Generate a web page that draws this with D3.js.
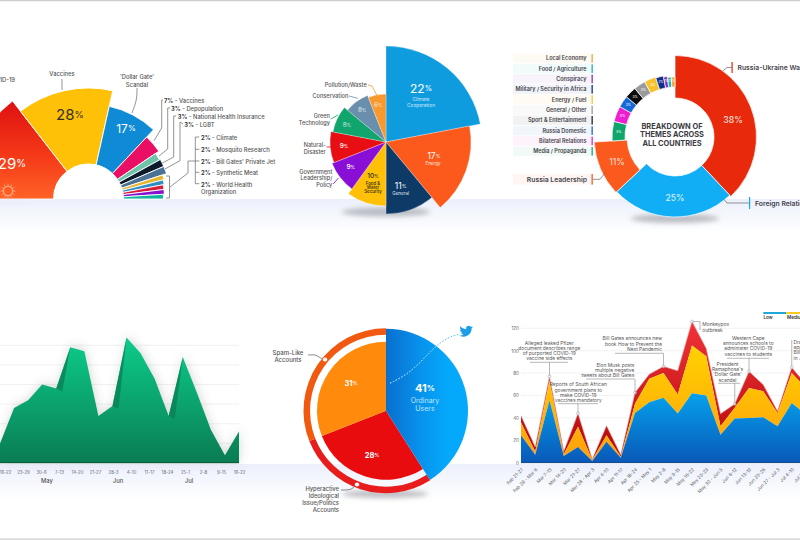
<!DOCTYPE html>
<html>
<head>
<meta charset="utf-8">
<script src="https://cdn.jsdelivr.net/npm/d3@7"></script>
<style>
html,body{margin:0;padding:0;background:#fff}
svg{display:block}
text{font-family:Inter,"Noto Sans",sans-serif}
</style>
</head>
<body>
<svg id="board" width="800" height="540" viewBox="0 0 800 540"></svg>
<script>
// Narrative share, half-donut
const narrativeNames = ["COVID-19","Vaccines","'Dollar Gate' Scandal","Vaccines","Depopulation","National Health Insurance","LGBT","Climate","Mosquito Research","Bill Gates' Private Jet","Synthetic Meat","World Health Organization"];
const narrativeValues = [29,28,17,7,3,3,3,2,2,2,2,2];
const narrativeRadii = [124,111,95,85,81,82,82,78,77,76,76,75];
const narrativeColors = ["url(#gRed1)","#ffc107","#0f8bd6","#ea0f64","#6fc3a8","#0c1b2c","#4a7196","#e6b62f","#2f8ec4","#d81c3a","#8a10cf","#10b59c"];

// Environmental themes, variable-radius pie
const envNames = ["Climate Cooperation","Energy","General","Food & Water Security","Government Leadership/Policy","Natural Disaster","Green Technology","Conservation","Pollution/Waste"];
const envValues = [22,17,11,10,9,9,8,8,6];
const envRadii = [96,85,72,64,58,56,54,50,48];
const envColors = ["#0f9cdf","#fb5a1c","#0e3a68","#ffc107","#8a0fd6","#e70f14","#11a56e","#6a8fad","#f8992f"];

// Themes across all countries, donut
const themeNames = ["Russia-Ukraine War","Foreign Relations","Russia Leadership","Media / Propaganda","Bilateral Relations","Russia Domestic","Sport & Entertainment","General / Other","Energy / Fuel","Military / Security in Africa","Conspiracy","Food / Agriculture","Local Economy"];
const themeValues = [38,25,11,5,4,3,3,3,3,2,1,1,1];
const themeColors = ["#e8290b","#12aef5","#fb5a1e","#11a56e","#ee1fd0","#1668d8","#0c0c0c","#9a9a9a","#f7c22c","#0d2e8c","#8a2fc0","#18b4b0","#f2a33c"];
const themeInner = [39,39,48,50,50,50,50,50,50,50,50,50,50];
const themeOuter = [81.5,80,81,63,63,63,63,63,63,62,61,60,60];
const legendNames = ["Local Economy","Food / Agriculture","Conspiracy","Military / Security in Africa","Energy / Fuel","General / Other","Sport & Entertainment","Russia Domestic","Bilateral Relations","Media / Propaganda"];
const legendColors = ["#f2a33c","#18b4b0","#8a2fc0","#0d2e8c","#f7c22c","#9a9a9a","#222222","#1668d8","#ee1fd0","#11a56e"];

// Weekly volume, green area
const weeklyVolume = [10,28,32,40,38,59,57,24,29,64,56,43,24,54,36,17,4,16];
const weeklyTicks = ["16-22","23-29","30-6","7-13","14-20","21-27","28-3","4-10","11-17","18-24","25-1","2-8","9-15","16-22"];
const weeklyMonths = ["May","Jun","Jul"];
const weeklyGrid = [10,20,30,40,50,60];
const facetPeaks = [5,9,13];

// Account types, pie with outer ring
const accountNames = ["Ordinary Users","Hyperactive Ideological Issue/Politics Accounts","Spam-Like Accounts"];
const accountValues = [41,28,31];

// Weekly risk levels, stacked area
const riskWeeks = ["Feb 21-27","Feb 28 - Mar 6","Mar 7-13","Mar 14-20","Mar 21-27","Mar 28 - Apr 3","Apr 4-10","Apr 11-17","Apr 18-24","Apr 25 - May 1","May 2-8","May 9-15","May 16-22","May 23-29","May 30 - Jun 5","Jun 6-12","Jun 13-19","Jun 20-26","Jun 27 - Jul 3","Jul 4-10","Jul 11-17"];
const riskLow = [24.6,7,55.7,6,14,1.5,18.7,4.4,44.4,54,58,44,62,60,25,39.4,40,40.6,32.6,53.3,43];
const riskMedium = [11.4,3,17.8,1.5,18,0.9,5.9,0.9,8.3,21,22,17,42.6,35,7.6,9.6,26.7,23.1,11.8,26.7,23.7];
const riskHigh = [6,4,3.5,2.5,12,0.6,8.4,1.7,9.8,4,6,21,21.4,7,11,3.4,14.8,5.9,1.6,5,3.3];
const riskAxisTicks = [0,20,40,60,80,100,120];

const svg = d3.select("#board");
const defs = svg.append("defs");
const rad = d => d * Math.PI / 180;
const lineGen = d3.line();

function vGrad(id, x1, y1, x2, y2, stops) {
  const g = defs.append("linearGradient").attr("id", id).attr("gradientUnits", "userSpaceOnUse")
    .attr("x1", x1).attr("y1", y1).attr("x2", x2).attr("y2", y2);
  stops.forEach(s => g.append("stop").attr("offset", s[0]).attr("stop-color", s[1]).attr("stop-opacity", s[2] === undefined ? 1 : s[2]));
}
function blur(id, sd) {
  defs.append("filter").attr("id", id).attr("x", "-30%").attr("y", "-60%").attr("width", "160%").attr("height", "220%")
    .append("feGaussianBlur").attr("stdDeviation", sd);
}
function label(g, x, y, str, opt = {}) {
  return g.append("text").attr("x", x).attr("y", y).text(str)
    .attr("text-anchor", opt.anchor || "middle")
    .attr("dominant-baseline", "central")
    .attr("font-size", opt.size || 5.5)
    .attr("font-weight", opt.weight || 500)
    .attr("fill", opt.fill || "#444")
    .attr("fill-opacity", opt.opacity === undefined ? 1 : opt.opacity);
}
// value with a smaller percent sign
function pct(x, y, v, big, small, fill, weight = 500, opacity = 1) {
  const t = label(svg, x, y, "", { size: big, weight, fill, opacity });
  t.append("tspan").text(v);
  t.append("tspan").text("%").attr("font-size", small);
}
function leader(g, pts, color = "#666", w = 0.7, curve) {
  const gen = curve ? d3.line().curve(curve) : lineGen;
  return g.append("path").attr("d", gen(pts)).attr("fill", "none").attr("stroke", color).attr("stroke-width", w);
}
function shadow(cx, cy, rx, ry) {
  svg.append("ellipse").attr("cx", cx).attr("cy", cy).attr("rx", rx).attr("ry", ry)
    .attr("fill", "#70747c").attr("fill-opacity", .45).attr("filter", "url(#soft)");
}

blur("soft", 2.5);
blur("softWide", 5);
vGrad("gBand1", 0, 199, 0, 232, [[0, "#ecf0fb"], [1, "#ffffff"]]);
vGrad("gBand2", 0, 464, 0, 500, [[0, "#ecf0fb"], [1, "#ffffff"]]);
// gradient below is read in the half-donut's own coordinates, origin at its centre
vGrad("gRed1", 0, -95, 0, 0, [[0, "#e01212"], [.55, "#f53a18"], [1, "#ff6226"]]);
vGrad("gArea", 0, 340, 0, 463, [[0, "#0ccb88"], [.55, "#0ba06c"], [1, "#0a7c52"]]);
// read in the ring pie's own coordinates
vGrad("gBlue5", 0, 0, 62, 0, [[0, "#0a6fce"], [.55, "#0792ec"], [1, "#05a9fb"]]);
vGrad("gRiskLow", 0, 375, 0, 463, [[0, "#04b4fa"], [1, "#0a58b8"]]);
vGrad("gRiskMed", 0, 340, 0, 450, [[0, "#ffd400"], [1, "#ffa40a"]]);
vGrad("gRiskHigh", 0, 320, 0, 440, [[0, "#f3343a"], [1, "#b80e10"]]);

// page frame and pale floor bands
svg.append("rect").attr("width", 800).attr("height", 540).attr("fill", "#fff");
svg.append("rect").attr("y", 199).attr("width", 800).attr("height", 33).attr("fill", "url(#gBand1)");
svg.append("rect").attr("y", 464).attr("width", 800).attr("height", 36).attr("fill", "url(#gBand2)");
svg.append("rect").attr("width", 800).attr("height", 1.3).attr("fill", "#cfcfcf");
svg.append("rect").attr("y", 538.3).attr("width", 800).attr("height", 1.7).attr("fill", "#dcdcdc");

/* ---------- half donut ---------- */
{
  const g = svg.append("g").attr("transform", "translate(88.5,199)");
  const pie = d3.pie().sort(null).startAngle(rad(-90)).endAngle(rad(90))(narrativeValues);
  g.selectAll("path").data(pie).join("path")
    .attr("d", (d, i) => d3.arc().innerRadius(35).outerRadius(narrativeRadii[i])(d))
    .attr("fill", (d, i) => narrativeColors[i])
    .attr("stroke", "#fff").attr("stroke-width", .9);
  // motif inside the red wedge
  const virus = svg.append("g").attr("transform", "translate(8,191)").attr("stroke", "#ffb48c").attr("stroke-opacity", .85).attr("fill", "none");
  virus.append("circle").attr("r", 4.6).attr("stroke-width", 1.4);
  d3.range(12).forEach(k => {
    const a = k * Math.PI / 6;
    virus.append("line").attr("x1", 4.6 * Math.cos(a)).attr("y1", 4.6 * Math.sin(a))
      .attr("x2", 7.5 * Math.cos(a)).attr("y2", 7.5 * Math.sin(a)).attr("stroke-width", .9);
  });
  svg.append("rect").attr("y", 199).attr("width", 30).attr("height", 6).attr("fill", "#ecf0fb");

  pct(12, 163, narrativeValues[0], 15, 10, "#fff", 400);
  pct(70, 114, narrativeValues[1], 15, 9.5, "#33302a", 400);
  pct(126, 128, narrativeValues[2], 12, 8, "#fff", 400);

  const lab = { size: 5.8, weight: 500, fill: "#555" };
  label(svg, 15, 79, narrativeNames[0], { ...lab, anchor: "end" });
  label(svg, 62, 73, narrativeNames[1], lab);
  label(svg, 137, 76.5, "'Dollar Gate'", lab);
  label(svg, 137, 84, "Scandal", lab);
  leader(svg, [[62, 79], [62, 90]]);
  leader(svg, [[137, 88], [137, 100], [132, 113]], "#666", .7, d3.curveBasis);

  const rows = [
    { i: 3, x: 164, y: 100, path: [[163, 100], [161.7, 100], [161.7, 128], [154, 140.7]] },
    { i: 4, x: 171, y: 108, path: [[170, 108], [167.7, 108], [167.7, 149], [159, 156]] },
    { i: 5, x: 177.7, y: 116, path: [[176, 116], [173.7, 116], [173.7, 157], [162.3, 163]] },
    { i: 6, x: 184.3, y: 124, path: [[183, 124], [180, 122], [180, 160.7], [165, 169]] }
  ];
  rows.forEach(r => {
    const t = label(svg, r.x, r.y, "", { ...lab, anchor: "start" });
    t.append("tspan").text(narrativeValues[r.i] + "%").attr("font-weight", 700).attr("fill", "#3a3a3a");
    t.append("tspan").text(" - " + narrativeNames[r.i]);
    leader(svg, r.path);
  });
  const treeY = [137, 149.3, 161, 172.3, 183.7];
  treeY.forEach((y, k) => {
    const t = label(svg, 201, y, "", { ...lab, anchor: "start" });
    t.append("tspan").text(narrativeValues[7 + k] + "%").attr("font-weight", 700).attr("fill", "#3a3a3a");
    t.append("tspan").text(" - " + (k === 4 ? "World Health" : narrativeNames[7 + k]));
    leader(svg, [[195.3, y], [199.3, y]]);
  });
  label(svg, 201, 191, "Organization", { ...lab, anchor: "start" });
  leader(svg, [[195.3, 137], [195.3, 183.7]]);
  leader(svg, [[195.3, 161], [188, 161], [188, 173], [170, 187]]);
  leader(svg, [[166, 176], [169.5, 176], [169.5, 198], [166, 198]]);
}

/* ---------- variable radius pie ---------- */
{
  shadow(386, 212, 44, 4.5);
  const g = svg.append("g").attr("transform", "translate(386,142)");
  const pie = d3.pie().sort(null)(envValues);
  g.selectAll("path").data(pie).join("path")
    .attr("d", (d, i) => d3.arc().innerRadius(0).outerRadius(envRadii[i])(d))
    .attr("fill", (d, i) => envColors[i])
    .attr("stroke", "#fff").attr("stroke-width", .3);
  const w = "#fff";
  pct(421, 88, envValues[0], 12, 7.5, w, 400);
  label(svg, 421, 99, "Climate", { fill: w, weight: 400, size: 4.8, opacity: .8 });
  label(svg, 421, 105, "Cooperation", { fill: w, weight: 400, size: 4.8, opacity: .8 });
  pct(434, 156, envValues[1], 8.5, 5, w, 400);
  label(svg, 433, 163.5, "Energy", { fill: w, weight: 400, size: 4.6, opacity: .9 });
  pct(400.7, 185.7, envValues[2], 8.5, 5, w, 400);
  label(svg, 400.7, 193, "General", { fill: w, weight: 400, size: 4.6, opacity: .9 });
  const dark = { fill: "#2c2a20", weight: 500 };
  pct(373, 176, envValues[3], 6.5, 4.5, "#2c2a20", 500);
  label(svg, 373, 183, "Food &", { ...dark, size: 4.4 });
  label(svg, 373, 187.3, "Water", { ...dark, size: 4.4 });
  label(svg, 373, 191.5, "Security", { ...dark, size: 4.4 });
  pct(350.7, 167, envValues[4], 6.5, 4.5, w, 500);
  pct(344, 145.7, envValues[5], 6.5, 4.5, w, 500);
  pct(347, 125, envValues[6], 6.5, 4.5, w, 400, .8);
  pct(362.3, 110, envValues[7], 6.5, 4.5, w, 400, .85);
  pct(378.3, 105, envValues[8], 6.5, 4.5, w, 400, .8);

  const o = { anchor: "end", size: 5.6, weight: 500, fill: "#555" };
  label(svg, 366.7, 85, "Pollution/Waste", o);
  label(svg, 348.3, 96, "Conservation", o);
  label(svg, 330, 116, "Green", o);
  label(svg, 330, 122.7, "Technology", o);
  label(svg, 325.7, 145, "Natural-", o);
  label(svg, 325.7, 151.7, "Disaster", o);
  label(svg, 332.3, 171.7, "Government", o);
  label(svg, 332.3, 178.3, "Leadership/", o);
  label(svg, 332.3, 185, "Policy", o);
  leader(svg, [[368, 85], [372, 86], [376.7, 95]], envColors[8], .8);
  leader(svg, [[349, 96], [358, 98.3]], envColors[7], .8);
  leader(svg, [[330.7, 119], [338, 115]], envColors[6], .8);
  leader(svg, [[326.5, 147], [332, 147]], envColors[5], .8);
  leader(svg, [[333.3, 184], [338.3, 178]], envColors[4], .8);
}

/* ---------- donut with legend ---------- */
{
  shadow(675, 218.5, 44, 4.5);
  const g = svg.append("g").attr("transform", "translate(675,137)");
  const pie = d3.pie().sort(null)(themeValues);
  g.selectAll("path").data(pie).join("path")
    .attr("d", (d, i) => d3.arc().innerRadius(themeInner[i]).outerRadius(themeOuter[i])(d))
    .attr("fill", (d, i) => themeColors[i])
    .attr("stroke", "#fff").attr("stroke-width", .7);
  const tinyArc = d3.arc().innerRadius(50).outerRadius(63);
  pie.slice(3).forEach(d => {
    const [x, y] = tinyArc.centroid(d);
    label(g, x, y, d.value + "%", { size: 3.2, weight: 500, fill: "#fff" });
  });
  label(svg, 733, 120, themeValues[0] + "%", { size: 8.5, weight: 600, fill: "#f7d0c4" });
  label(svg, 675, 198, themeValues[1] + "%", { size: 8.5, weight: 500, fill: "#d6f0ff" });
  label(svg, 617, 161.7, themeValues[2] + "%", { size: 8.5, weight: 500, fill: "#fdd8c8" });

  const h = { size: 7.4, weight: 700, fill: "#3a3b42" };
  label(svg, 672, 126, "BREAKDOWN OF", h);
  label(svg, 672, 134.5, "THEMES ACROSS", h);
  label(svg, 672, 143.5, "ALL COUNTRIES", h);

  const rowY = d3.scalePoint().domain(legendNames).range([58.3, 151.3]);
  legendNames.forEach((n, i) => {
    const y = rowY(n);
    svg.append("rect").attr("x", 513).attr("y", y - 4.7).attr("width", 78.5).attr("height", 9.4)
      .attr("fill", legendColors[i]).attr("fill-opacity", .06);
    svg.append("rect").attr("x", 591.5).attr("y", y - 4.3).attr("width", 1.3).attr("height", 8.6)
      .attr("fill", legendColors[i]);
    label(svg, 586.5, y, n, { anchor: "end", size: 5.5, weight: 600, fill: "#44444c" });
  });

  svg.append("rect").attr("x", 513).attr("y", 174).attr("width", 78.5).attr("height", 10.6).attr("fill", "#fb5a1e").attr("fill-opacity", .06);
  svg.append("rect").attr("x", 591.5).attr("y", 174).attr("width", 1.3).attr("height", 10.6).attr("fill", "#fb5a1e");
  label(svg, 587, 179.3, themeNames[2], { anchor: "end", size: 6.8, weight: 600, fill: "#44444c" });
  leader(svg, [[593, 179.3], [600, 179.3], [605, 173]]);

  svg.append("rect").attr("x", 731.5).attr("y", 62).attr("width", 1.2).attr("height", 11).attr("fill", "#e8290b");
  leader(svg, [[732, 67.5], [727, 67.5], [723, 71]]);
  label(svg, 737.5, 67.5, themeNames[0], { anchor: "start", size: 6.8, weight: 600, fill: "#44444c" });

  svg.append("rect").attr("x", 749).attr("y", 197).attr("width", 1.2).attr("height", 12).attr("fill", "#12aef5");
  leader(svg, [[749, 203], [727, 203], [724, 199.5]]);
  label(svg, 755, 203, themeNames[1], { anchor: "start", size: 6.8, weight: 600, fill: "#44444c" });
}

/* ---------- green weekly area ---------- */
{
  const x = d3.scaleLinear().domain([0, weeklyVolume.length - 1]).range([0, 239]);
  const y = d3.scaleLinear().domain([0, 60]).range([463, 345.3]);
  const g = svg.append("g");
  g.selectAll("line.grid").data(weeklyGrid).join("line").attr("class", "grid")
    .attr("x1", 0).attr("x2", 239).attr("y1", y).attr("y2", y).attr("stroke", "#ececec").attr("stroke-width", .8);
  const area = d3.area().x((d, i) => x(i)).y0(y(0)).y1(d => y(d));
  g.append("path").attr("d", area(weeklyVolume)).attr("fill", "#55605a").attr("fill-opacity", .22)
    .attr("transform", "translate(1,-2)").attr("filter", "url(#softWide)");
  g.append("path").attr("d", area(weeklyVolume)).attr("fill", "url(#gArea)");
  // darker fold on the rising side of the tallest peaks
  facetPeaks.forEach(i => {
    const a = [x(i - 1), y(weeklyVolume[i - 1])], b = [x(i), y(weeklyVolume[i])];
    const fold = [a[0] + 6, a[1] + 3];
    g.append("path").attr("d", lineGen([a, b, fold]) + "Z").attr("fill", "#0a7f56").attr("fill-opacity", .75);
  });
  g.append("rect").attr("x", 0).attr("y", 462.2).attr("width", 239).attr("height", 1).attr("fill", "#0a5a3c");

  const tickX = d3.scalePoint().domain(d3.range(weeklyTicks.length)).range([5, 239]);
  const axis = svg.append("g").attr("transform", "translate(0,470)")
    .call(d3.axisBottom(tickX).tickSize(0).tickPadding(0).tickFormat(i => weeklyTicks[i]));
  axis.select(".domain").remove();
  axis.selectAll("text").attr("font-family", "Inter").attr("font-size", 4.4).attr("fill", "#666").attr("dy", 0).attr("dominant-baseline", "central").attr("y", 2.7);
  const monthX = d3.scalePoint().domain(weeklyMonths).range([47, 189]);
  weeklyMonths.forEach(m => label(svg, monthX(m), 480, m, { size: 5.8, weight: 500, fill: "#555" }));
}

/* ---------- account types pie with ring ---------- */
{
  shadow(385, 494, 43, 4);
  const g = svg.append("g").attr("transform", "translate(386,410.7)");
  const pie = d3.pie().sort(null)(accountValues);
  const ringColors = [null, "#e81c1c", "#f0590f"];
  const fills = [null, "#e80c0e", "#ff8a0c"];
  // ring follows the two inner wedges around the left side
  [1, 2].forEach(k => {
    g.append("path").attr("d", d3.arc().innerRadius(76).outerRadius(82.5)(pie[k])).attr("fill", ringColors[k]);
    g.append("path").attr("d", d3.arc().innerRadius(0).outerRadius(69)(pie[k])).attr("fill", fills[k]);
  });
  const blueArc = d3.arc().innerRadius(0).outerRadius(82)(pie[0]);
  g.append("path").attr("d", blueArc).attr("fill", "url(#gBlue5)");

  // dotted trail out to the bird
  const trail = [[390, 383.3], [412, 372], [433, 348], [448, 337], [460, 334]];
  const trailGen = d3.line().curve(d3.curveBasis);
  defs.append("clipPath").attr("id", "blueClip").append("path").attr("d", blueArc).attr("transform", "translate(386,410.7)");
  svg.append("path").attr("d", trailGen(trail)).attr("fill", "none").attr("stroke", "#35b8ec").attr("stroke-width", .8).attr("stroke-dasharray", "1.6 1.6");
  svg.append("path").attr("d", trailGen(trail)).attr("fill", "none").attr("stroke", "#cfeeff").attr("stroke-width", .8).attr("stroke-dasharray", "1.6 1.6").attr("clip-path", "url(#blueClip)");
  svg.append("path").attr("transform", "translate(459.5,324.5) scale(0.56)").attr("fill", "#1c9fe8")
    .attr("d", "M23.953 4.57a10 10 0 01-2.825.775 4.958 4.958 0 002.163-2.723c-.951.555-2.005.959-3.127 1.184a4.92 4.92 0 00-8.384 4.482C7.69 8.095 4.067 6.13 1.64 3.162a4.822 4.822 0 00-.666 2.475c0 1.71.87 3.213 2.188 4.096a4.904 4.904 0 01-2.228-.616v.06a4.923 4.923 0 003.946 4.827 4.996 4.996 0 01-2.212.085 4.936 4.936 0 004.604 3.417 9.867 9.867 0 01-6.102 2.105c-.39 0-.779-.023-1.17-.067a13.995 13.995 0 007.557 2.209c9.053 0 13.998-7.496 13.998-13.985 0-.21 0-.42-.015-.63A9.935 9.935 0 0024 4.59z");

  pct(425, 388, accountValues[0], 11, 8, "#fff", 700);
  label(svg, 425, 400.7, "Ordinary", { size: 7, weight: 400, fill: "#bfe6ff" });
  label(svg, 425, 408.5, "Users", { size: 7, weight: 400, fill: "#bfe6ff" });
  pct(351, 383, accountValues[2], 7.5, 5, "#fff", 700);
  pct(372, 455, accountValues[1], 7.5, 5, "#fff", 700);

  const o = { size: 6, weight: 500, fill: "#555" };
  label(svg, 288, 352.3, "Spam-Like", o);
  label(svg, 288, 359, "Accounts", o);
  leader(svg, [[308, 355], [316, 354.5], [320, 358], [323.5, 359]], "#555", .7, d3.curveBasis);
  svg.append("circle").attr("cx", 325).attr("cy", 359.5).attr("r", 2.6).attr("fill", "#fff").attr("stroke", "#f0590f").attr("stroke-width", 1);
  const e = { ...o, anchor: "end", size: 5.8 };
  label(svg, 339, 488, "Hyperactive", e);
  label(svg, 339, 495.5, "Ideological", e);
  label(svg, 339, 502.5, "Issue/Politics", e);
  label(svg, 339, 509.5, "Accounts", e);
  leader(svg, [[341, 490], [348, 490], [352, 489], [355, 486]], "#555", .7, d3.curveBasis);
  svg.append("circle").attr("cx", 357).attr("cy", 484.5).attr("r", 2.6).attr("fill", "#fff").attr("stroke", "#e81c1c").attr("stroke-width", 1);
}

/* ---------- stacked risk levels ---------- */
{
  const x = d3.scalePoint().domain(riskWeeks).range([521, 806]);
  const y = d3.scaleLinear().domain([0, 120]).range([462.7, 328.3]);
  const rows = riskWeeks.map((w, i) => ({ w, Low: riskLow[i], Medium: riskMedium[i], High: riskHigh[i] }));
  const series = d3.stack().keys(["Low", "Medium", "High"])(rows);
  const area = d3.area().x(d => x(d.data.w)).y0(d => y(d[0])).y1(d => y(d[1]));

  const yAxis = svg.append("g").attr("transform", "translate(520,0)")
    .call(d3.axisLeft(y).tickValues(riskAxisTicks).tickSize(0).tickPadding(0).tickFormat(d3.format("d")));
  yAxis.select(".domain").remove();
  yAxis.selectAll("text").attr("font-family", "Inter").attr("font-size", 4.6).attr("fill", "#666").attr("x", -1);
  svg.selectAll("line.rgrid").data(riskAxisTicks.slice(1)).join("line").attr("class", "rgrid")
    .attr("x1", 521).attr("x2", 800).attr("y1", y).attr("y2", y).attr("stroke", "#ededed").attr("stroke-width", .7);

  const colors = { Low: "url(#gRiskLow)", Medium: "url(#gRiskMed)", High: "url(#gRiskHigh)" };
  [...series].reverse().forEach(s => {
    svg.append("path").attr("d", area(s)).attr("fill", colors[s.key]);
  });
  // thin halo along the top of the stack
  const topEdge = d3.line().x(d => x(d.data.w)).y(d => y(d[1]));
  svg.append("path").attr("d", topEdge(series[2])).attr("fill", "none").attr("stroke", "#e9a0a0").attr("stroke-width", .6);

  svg.append("rect").attr("x", 521).attr("y", 462.2).attr("width", 279).attr("height", .9).attr("fill", "#0b3f88");

  const xAxis = svg.append("g").attr("transform", "translate(0,465)")
    .call(d3.axisBottom(x).tickSize(0).tickPadding(0));
  xAxis.select(".domain").remove();
  xAxis.selectAll("text").attr("font-family", "Inter").attr("font-size", 4.6).attr("fill", "#666")
    .attr("text-anchor", "end").attr("dy", 0).attr("y", 0)
    .attr("transform", "translate(2,5) rotate(-45)");

  const total = i => riskLow[i] + riskMedium[i] + riskHigh[i];
  const notes = [
    { i: 2, lines: ["Alleged leaked Pfizer", "document describes range", "of purported COVID-19", "vaccine side effects"], tx: 549.3, ty: 342.7, anchor: "middle", u: [530, 568, 362.3] },
    { i: 4, lines: ["Reports of South African", "government plans to", "make COVID-19", "vaccines mandatory"], tx: 578.3, ty: 384.3, anchor: "middle", u: [558, 598, 403.7] },
    { i: 8, lines: ["Elon Musk posts", "multiple negative", "tweets about Bill Gates"], tx: 634.3, ty: 365, anchor: "end", u: [586, 634.5, 379] },
    { i: 10, lines: ["Bill Gates announces new", "book How to Prevent the", "Next Pandemic"], tx: 662, ty: 338.3, anchor: "end", u: [615, 663.5, 353.3] },
    { i: 15, lines: ["President", "Ramaphosa's", "'Dollar Gate'", "scandal"], tx: 727.5, ty: 364, anchor: "middle", u: [718, 740, 383.3] },
    { i: 16, lines: ["Western Cape", "announces schools to", "administer COVID-19", "vaccines to students"], tx: 748.3, ty: 338, anchor: "middle", u: [727, 769, 358.3] },
    { i: 19, lines: ["Draft NHI", "approved", "Bill passed", "in June"], tx: 793.5, ty: 342, anchor: "start", u: null }
  ];
  notes.forEach(n => {
    n.lines.forEach((t, k) => label(svg, n.tx, n.ty + k * 5.2, t, { anchor: n.anchor, size: 4.9, weight: 400, fill: "#555" }));
    const px = x(riskWeeks[n.i]), py = y(total(n.i));
    if (n.u) leader(svg, [[n.u[0], n.u[2]], [n.u[1], n.u[2]]], "#888", .6);
    const from = n.u ? n.u[2] : n.ty - 2;
    leader(svg, [[px, from], [px, py]], "#888", .6);
    svg.append("circle").attr("cx", px).attr("cy", py).attr("r", 1.5).attr("fill", "#fff").attr("fill-opacity", .6).attr("stroke", "#999").attr("stroke-width", .5);
  });
  // outbreak note hangs off the peak to the right
  const peak = [x(riskWeeks[12]), y(total(12))];
  leader(svg, [peak, [700, peak[1]], [700, 330]], "#888", .6);
  svg.append("circle").attr("cx", peak[0]).attr("cy", peak[1]).attr("r", 1.5).attr("fill", "#fff").attr("fill-opacity", .6).attr("stroke", "#999").attr("stroke-width", .5);
  label(svg, 702.3, 324.3, "Monkeypox", { anchor: "start", size: 4.9, weight: 400, fill: "#555" });
  label(svg, 702.3, 329.5, "outbreak", { anchor: "start", size: 4.9, weight: 400, fill: "#555" });

  // legend strip, running past the page edge
  svg.append("rect").attr("x", 763.3).attr("y", 312).attr("width", 23).attr("height", 2).attr("fill", "#1fa8d8");
  svg.append("rect").attr("x", 786.3).attr("y", 312).attr("width", 14).attr("height", 2).attr("fill", "#ffc922");
  label(svg, 763.5, 317.8, "Low", { anchor: "start", size: 4.6, weight: 600, fill: "#333" });
  label(svg, 787, 317.8, "Medium", { anchor: "start", size: 4.6, weight: 600, fill: "#333" });
}
</script>
</body>
</html>
